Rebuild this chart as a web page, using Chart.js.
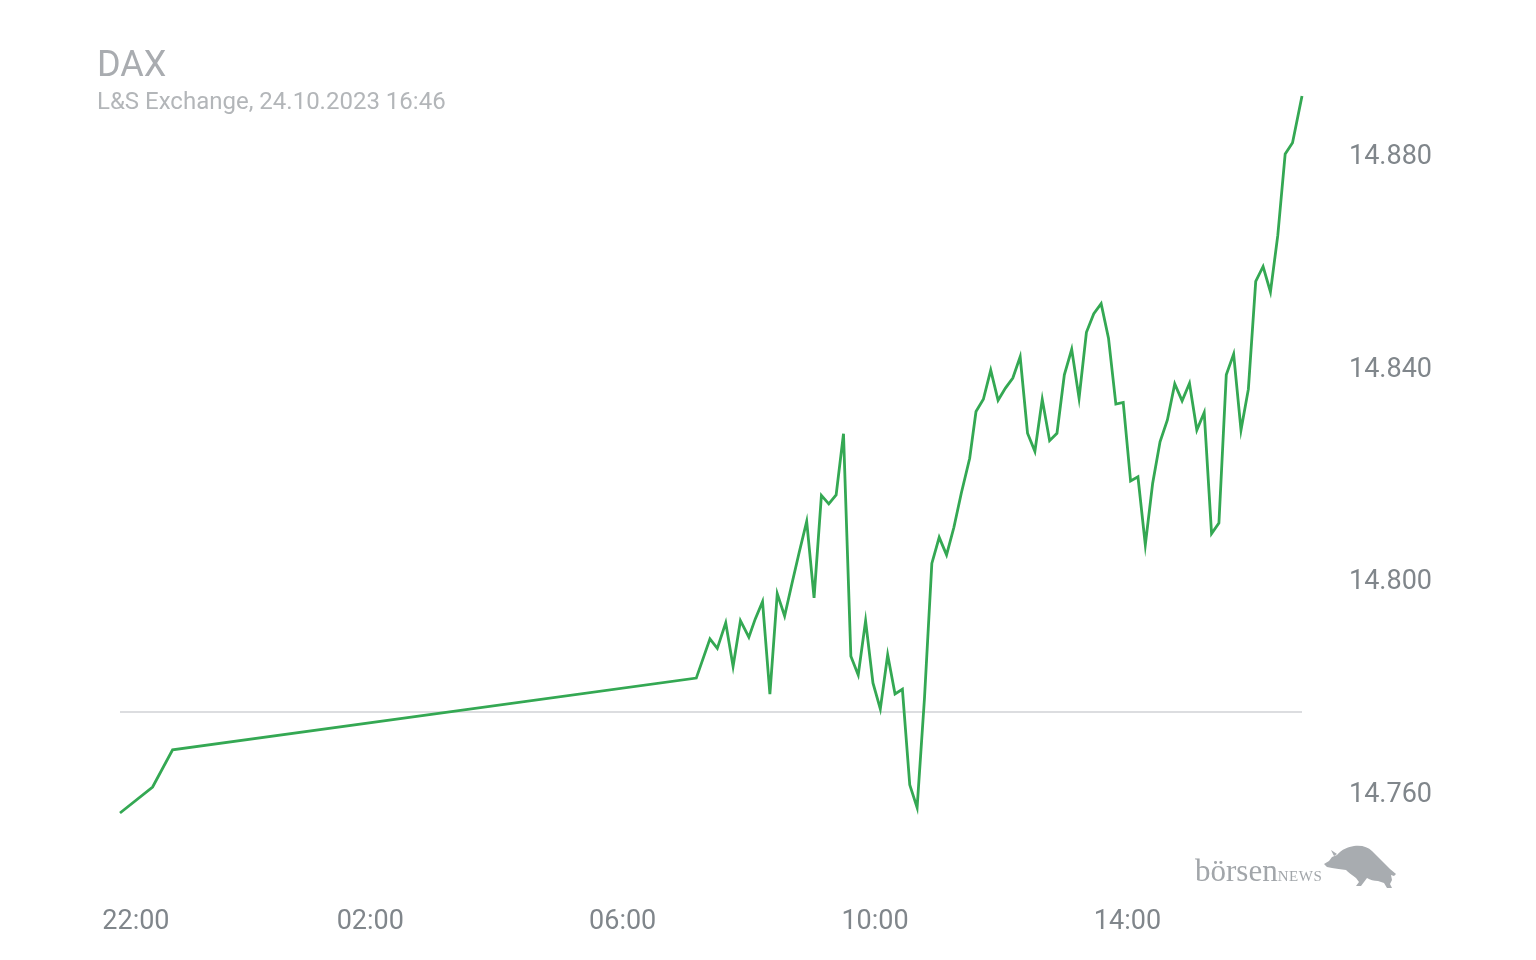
<!DOCTYPE html>
<html>
<head>
<meta charset="utf-8">
<title>DAX</title>
<script src="https://cdn.jsdelivr.net/npm/chart.js@4.4.0/dist/chart.umd.min.js"></script>
<style>
    html, body { margin: 0; padding: 0; background: #fff; }
    #wrap { position: relative; width: 1536px; height: 960px; overflow: hidden; }
    #chartCanvas { position: absolute; left: 0; top: 0; }
    .title { position: absolute; left: 97px; top: 46px; font: 36px/36px Roboto, sans-serif; color: #a9acb0; white-space: nowrap; }
    .subtitle { position: absolute; left: 97px; top: 89px; font: 24px/24px Roboto, sans-serif; color: #b3b6b9; white-space: nowrap; }
    .brand { position: absolute; left: 1195px; top: 853px; font: 31px/36px "Liberation Serif", "DejaVu Serif", serif; color: #a2a6aa; white-space: nowrap; }
    .brand span { font-size: 15px; letter-spacing: 0.6px; }
    .bull { position: absolute; left: 1320px; top: 843px; }
</style>
</head>
<body>
<div id="wrap">
    <canvas id="chartCanvas" width="1536" height="960"></canvas>
    <div class="title">DAX</div>
    <div class="subtitle">L&amp;S Exchange, 24.10.2023 16:46</div>
    <div class="brand">börsen<span>NEWS</span></div>
    <svg class="bull" width="80" height="48" viewBox="0 0 80 48">
        <path fill="#a8acb0" d="M4,21 L9,18 L12,14 L17,12 C22,6 28,4 34,3 C42,2 48,4 52,8 C58,14 64,20 70,26 L76,31 L74,33 L71,32 L72,37 L70,41 L72,45 L67,45 L64,40 L58,38 C54,38 50,37 47,35 L44,39 L41,43 L36,43 L39,39 L36,35 C32,32 28,29 26,27 C21,26 16,26 12,25 L7,24 Z M14,13 L11,7 L17,11 Z"/>
    </svg>
</div>
<script>
// Kursdaten (Uhrzeit / Punkte)
const times = [
    "22:02", "22:33", "22:52", "07:10", "07:23", "07:30", "07:38", "07:45", "07:52", "08:00",
    "08:06", "08:13", "08:20", "08:27", "08:34", "08:41", "08:48", "08:55", "09:02", "09:09",
    "09:16", "09:23", "09:30", "09:37", "09:44", "09:51", "09:58", "10:05", "10:12", "10:19",
    "10:26", "10:33", "10:40", "10:47", "10:54", "11:01", "11:08", "11:15", "11:22", "11:30",
    "11:36", "11:43", "11:50", "11:57", "12:04", "12:11", "12:18", "12:25", "12:32", "12:39",
    "12:46", "12:53", "13:00", "13:07", "13:14", "13:21", "13:28", "13:35", "13:42", "13:49",
    "13:56", "14:03", "14:10", "14:17", "14:24", "14:31", "14:38", "14:45", "14:52", "14:59",
    "15:06", "15:13", "15:20", "15:27", "15:34", "15:41", "15:48", "15:55", "16:02", "16:09",
    "16:16", "16:23", "16:30", "16:37", "16:46"
];
const values = [
    14756.0, 14760.9, 14767.9, 14781.4, 14788.8, 14787.0, 14791.8, 14783.6, 14792.2, 14789.1,
    14792.5, 14795.8, 14778.4, 14797.3, 14793.1, 14799.2, 14805.2, 14810.9, 14796.5, 14815.8,
    14814.2, 14815.9, 14827.4, 14785.5, 14782.0, 14792.2, 14780.5, 14775.6, 14785.8, 14778.4,
    14779.3, 14761.3, 14757.0, 14777.6, 14803.0, 14807.9, 14804.6, 14809.8, 14816.2, 14822.8,
    14831.6, 14833.9, 14839.4, 14833.7, 14836.0, 14837.9, 14841.9, 14827.5, 14824.1, 14833.9,
    14826.1, 14827.5, 14838.5, 14843.3, 14834.1, 14846.5, 14850.0, 14851.9, 14845.4, 14833.0,
    14833.3, 14818.5, 14819.3, 14806.5, 14818.1, 14825.9, 14830.0, 14836.8, 14833.6, 14836.9,
    14828.1, 14831.4, 14808.6, 14810.6, 14838.5, 14842.4, 14828.1, 14835.8, 14856.1, 14858.9,
    14854.1, 14864.8, 14880.1, 14882.2, 14891.0
];
const prevClose = 14775;
const xTickTimes = ["22:00", "02:00", "06:00", "10:00", "14:00"];
const yTickValues = [14760, 14800, 14840, 14880];

const DAY_START = 22 * 60;

// Minuten seit 22:00 (Vortag)
function toMinutes(hhmm) {
    let [h, m] = hhmm.split(":").map(Number);
    let t = h * 60 + m - DAY_START;
    if (t < 0) t += 24 * 60;
    return t;
}

function toClock(t) {
    let total = (t + DAY_START) % (24 * 60);
    let h = Math.floor(total / 60), m = total % 60;
    return String(h).padStart(2, "0") + ":" + String(m).padStart(2, "0");
}

function formatDE(v) {
    return Math.round(v).toString().replace(/\B(?=(\d{3})+(?!\d))/g, ".");
}

let points = times.map((t, i) => ({ x: toMinutes(t), y: values[i] }));
let xMin = points[0].x;
let xMax = points[points.length - 1].x;

// erstes Zeit-Label etwas nach rechts ruecken wie im Original
const firstLabelNudge = {
    id: "firstLabelNudge",
    afterLayout(chart) {
        let items = chart.scales.x.getLabelItems();
        if (items.length) items[0].options.translation[0] += 18;
    }
};

let tickFont = { family: "Roboto", size: 27 };

new Chart(document.getElementById("chartCanvas"), {
    type: "line",
    data: {
        datasets: [{
            label: "DAX",
            data: points,
            borderColor: "#34a853",
            borderWidth: 2.8,
            pointRadius: 0,
            tension: 0,
            fill: false,
            clip: false,
            order: 1
        }, {
            label: "Vortag",
            data: [{ x: xMin, y: prevClose }, { x: xMax, y: prevClose }],
            borderColor: "#dcdde0",
            borderWidth: 2,
            pointRadius: 0,
            fill: false,
            order: 2
        }]
    },
    options: {
        responsive: false,
        animation: false,
        layout: { padding: { left: 120, top: 96, right: 0, bottom: 0 } },
        plugins: {
            legend: { display: false },
            tooltip: { enabled: false }
        },
        scales: {
            x: {
                type: "linear",
                min: xMin,
                max: xMax,
                grid: { display: false, drawTicks: false },
                border: { display: false },
                afterBuildTicks: s => { s.ticks = xTickTimes.map(t => ({ value: toMinutes(t) })); },
                afterFit: s => {
                    s.height = 147;
                    s.paddingLeft = 0;
                    s.paddingRight = 0;
                },
                ticks: {
                    autoSkip: false,
                    maxRotation: 0,
                    padding: 93,
                    color: "#80868b",
                    font: tickFont,
                    callback: v => toClock(v)
                }
            },
            y: {
                position: "right",
                min: Math.min(...values),
                max: Math.max(...values),
                grid: { display: false, drawTicks: false },
                border: { display: false },
                afterBuildTicks: s => { s.ticks = yTickValues.map(v => ({ value: v })); },
                afterFit: s => { s.width = 234; },
                ticks: {
                    padding: 47,
                    labelOffset: 3,
                    color: "#80868b",
                    font: tickFont,
                    callback: v => formatDE(v)
                }
            }
        }
    },
    plugins: [firstLabelNudge]
});
</script>
</body>
</html>
